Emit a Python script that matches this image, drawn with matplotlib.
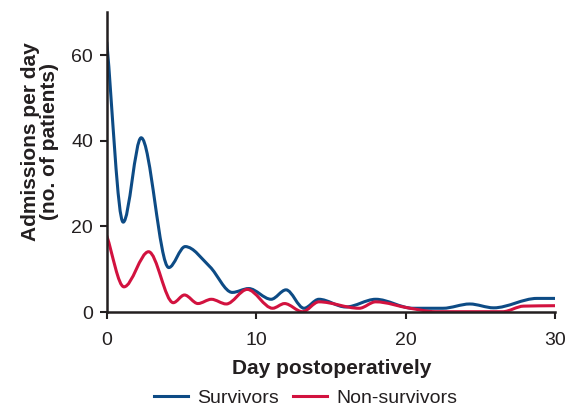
import numpy as np
import matplotlib.pyplot as plt
from matplotlib.path import Path
from matplotlib.patches import PathPatch
from matplotlib.lines import Line2D

plt.rcParams['font.family'] = ['Liberation Sans', 'DejaVu Sans']

# values (day, admissions)
surv_day = [0, 1.1, 2.3, 4.15, 5.25, 6.9, 8.4, 9.5, 11.0, 12.0, 13.2, 14.2, 16.0, 18.0,
            20.5, 22.5, 24.3, 25.9, 28.8, 30]
surv_val = [63, 21, 40.7, 10.4, 15.3, 10.6, 4.6, 5.5, 3.0, 5.2, 0.9, 3.0, 1.2, 3.0,
            0.9, 0.9, 1.9, 1.0, 3.2, 3.2]
non_day = [0, 1.15, 2.8, 4.45, 5.2, 6.1, 7.0, 8.0, 9.4, 11.1, 11.9, 13.1, 14.2, 16.9,
           18.0, 20.3, 22.0, 26.5, 27.9, 30]
non_val = [17.8, 5.9, 14.1, 2.2, 4.0, 2.0, 3.0, 1.9, 5.3, 0.9, 2.0, 0.1, 2.4, 0.9,
           2.4, 0.9, 0.1, 0.1, 1.4, 1.5]

blue = '#0d4b85'
red = '#d2123f'
ink = '#231f20'


def smooth_path(x, y):
    # monotone cubic (Fritsch-Carlson) tangents, drawn as bezier segments
    x = np.asarray(x, float)
    y = np.asarray(y, float)
    h = np.diff(x)
    d = np.diff(y) / h
    m = np.zeros_like(y)
    m[0], m[-1] = d[0], d[-1]
    for k in range(1, len(y) - 1):
        if d[k - 1] * d[k] > 0:
            w1 = 2 * h[k] + h[k - 1]
            w2 = h[k] + 2 * h[k - 1]
            m[k] = (w1 + w2) / (w1 / d[k - 1] + w2 / d[k])
    verts = [(x[0], y[0])]
    codes = [Path.MOVETO]
    for k in range(len(x) - 1):
        verts += [(x[k] + h[k] / 3, y[k] + m[k] * h[k] / 3),
                  (x[k + 1] - h[k] / 3, y[k + 1] - m[k + 1] * h[k] / 3),
                  (x[k + 1], y[k + 1])]
        codes += [Path.CURVE4] * 3
    return Path(verts, codes)


fig = plt.figure(figsize=(5.68, 4.08), dpi=100)
ax = fig.add_axes([0.188, 0.235, 0.789, 0.735])

ax.add_patch(PathPatch(smooth_path(surv_day, surv_val), fill=False, edgecolor=blue,
                       lw=2.2, capstyle='round', joinstyle='round'))
ax.add_patch(PathPatch(smooth_path(non_day, non_val), fill=False, edgecolor=red,
                       lw=2.2, capstyle='round', joinstyle='round'))

ax.set_xlim(0, 30)
ax.set_ylim(0, 70)
ax.set_xticks([0, 10, 20, 30])
ax.set_yticks([0, 20, 40, 60])
for s in ['top', 'right']:
    ax.spines[s].set_visible(False)
for s in ['left', 'bottom']:
    ax.spines[s].set_linewidth(1.8)
    ax.spines[s].set_color(ink)
ax.tick_params(length=5, width=1.5, color=ink, labelsize=14, labelcolor=ink)
ax.tick_params(axis='x', pad=9)
ax.tick_params(axis='y', pad=5)

fig.text(332 / 568, 1 - 369 / 408, 'Day postoperatively', fontsize=15, fontweight='bold',
         color=ink, ha='center', va='center')
fig.text(40 / 568, 1 - 142 / 408, 'Admissions per day\n(no. of patients)', fontsize=15,
         fontweight='bold', color=ink, rotation=90, ha='center', va='center',
         multialignment='center', linespacing=1.05)

handles = [Line2D([], [], color=blue, lw=2.2), Line2D([], [], color=red, lw=2.2)]
fig.legend(handles, ['Survivors', 'Non-survivors'], loc='center', bbox_to_anchor=(0.538, 0.025),
           ncol=2, frameon=False, fontsize=14, handlelength=1.75, columnspacing=0.75,
           handletextpad=0.45, labelcolor=ink)

fig.savefig('out.png', dpi=100)
